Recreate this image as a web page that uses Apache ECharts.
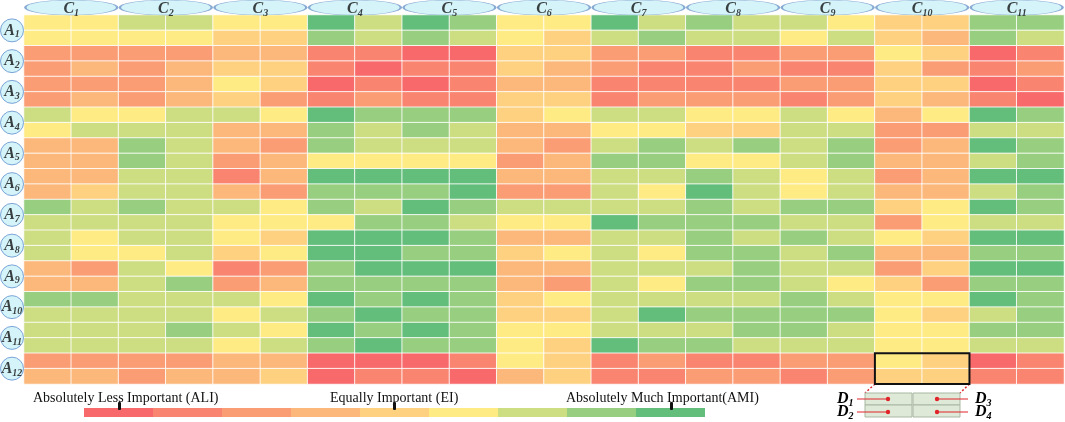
<!DOCTYPE html>
<html>
<head>
<meta charset="utf-8">
<script src="https://cdn.jsdelivr.net/npm/echarts@6/dist/echarts.min.js"></script>
<style>
  html, body { margin: 0; padding: 0; background: #fff; }
  #chart { width: 1065px; height: 422px; }
</style>
</head>
<body>
<div id="chart"></div>
<script>
// column groups C1..C11, each split in two sub-columns
var colGroups = ['C1', 'C2', 'C3', 'C4', 'C5', 'C6', 'C7', 'C8', 'C9', 'C10', 'C11'];
// row groups A1..A12, each split in two sub-rows
var rowGroups = ['A1', 'A2', 'A3', 'A4', 'A5', 'A6', 'A7', 'A8', 'A9', 'A10', 'A11', 'A12'];

// 1 = absolutely less important ... 5 = equally ... 9 = absolutely much important
var levels = [1, 2, 3, 4, 5, 6, 7, 8, 9];
var levelColors = ['#f8696b', '#f98570', '#fa9d75', '#fcb77a', '#fdd17f', '#ffeb84', '#cddd82', '#98ce7f', '#63be7b'];

// one line per sub-row, 22 cells (C1a,C1b,C2a,...)
var cells = [
  [6,6, 7,7, 6,6, 9,7, 9,8, 6,6, 9,7, 8,7, 7,6, 5,5, 8,8],
  [6,6, 6,6, 5,5, 8,7, 8,7, 6,5, 7,8, 7,7, 6,7, 5,4, 8,7],
  [3,3, 3,3, 4,4, 2,2, 1,1, 5,5, 3,3, 2,2, 3,3, 6,5, 1,2],
  [3,4, 3,4, 5,5, 2,1, 2,2, 5,4, 3,2, 2,3, 2,2, 5,3, 2,3],
  [3,3, 3,4, 6,5, 1,2, 1,2, 4,4, 2,2, 2,2, 3,3, 5,5, 1,2],
  [3,4, 3,4, 5,3, 2,3, 2,2, 5,5, 2,3, 3,3, 2,3, 5,4, 2,1],
  [7,6, 6,7, 7,6, 9,8, 8,8, 5,6, 7,7, 6,6, 7,6, 4,6, 9,8],
  [6,7, 7,7, 4,4, 8,7, 8,7, 4,4, 6,6, 5,5, 7,7, 3,3, 7,7],
  [4,4, 8,7, 4,3, 8,7, 7,7, 4,3, 7,8, 7,8, 7,8, 3,4, 9,8],
  [4,4, 8,7, 3,4, 6,6, 6,6, 3,4, 8,8, 6,6, 7,8, 4,4, 7,8],
  [4,4, 7,7, 2,4, 9,9, 9,9, 4,4, 7,7, 8,7, 6,7, 3,4, 9,9],
  [4,5, 7,7, 4,3, 8,8, 8,9, 3,3, 7,6, 9,7, 6,7, 4,4, 7,8],
  [8,7, 8,7, 7,6, 8,7, 9,8, 7,7, 7,7, 8,7, 8,8, 5,6, 9,8],
  [7,7, 7,7, 6,6, 6,8, 8,7, 6,6, 9,8, 8,8, 7,7, 3,6, 7,7],
  [7,6, 7,7, 6,5, 9,9, 9,8, 4,4, 7,7, 8,7, 8,7, 6,5, 9,9],
  [7,6, 6,7, 5,6, 9,9, 8,8, 5,6, 7,6, 8,8, 7,8, 4,4, 8,8],
  [4,3, 7,6, 2,3, 8,9, 9,9, 4,4, 7,7, 7,8, 7,7, 3,5, 9,9],
  [4,4, 7,8, 3,4, 8,8, 8,8, 4,3, 7,6, 8,8, 7,6, 5,3, 8,8],
  [8,8, 7,7, 7,6, 9,8, 9,8, 5,6, 7,7, 7,7, 8,7, 6,6, 9,8],
  [7,7, 7,7, 6,7, 8,9, 8,8, 5,5, 7,9, 8,8, 8,8, 6,5, 7,8],
  [7,7, 7,8, 7,6, 9,8, 9,8, 6,6, 7,7, 7,8, 8,7, 6,6, 8,8],
  [7,7, 7,7, 6,7, 8,9, 8,8, 6,5, 9,8, 8,7, 7,7, 6,6, 7,7],
  [3,3, 3,3, 4,4, 1,1, 1,2, 6,5, 2,3, 2,2, 3,3, 6,5, 1,2],
  [4,4, 3,4, 4,5, 1,2, 2,1, 4,5, 2,2, 3,3, 2,3, 5,5, 2,2]
];

var legendTexts = ['Absolutely Less Important (ALI)', 'Equally Important (EI)', 'Absolutely Much Important(AMI)'];
var insetLabels = ['D1', 'D2', 'D3', 'D4'];

var serif = '"Liberation Serif", "Times New Roman", serif';
var subRich = {
  m: { fontFamily: serif, fontWeight: 'bold', fontStyle: 'italic', fontSize: 16, color: '#111' },
  s: { fontFamily: serif, fontWeight: 'bold', fontStyle: 'italic', fontSize: 10, color: '#111', padding: [9, 0, 0, 0] }
};
function subLabel(name) {
  return '{m|' + name.charAt(0) + '}{s|' + name.slice(1) + '}';
}

var xCats = [], yCats = [], heatData = [];
colGroups.forEach(function (c) { xCats.push(c + 'a', c + 'b'); });
rowGroups.forEach(function (a) { yCats.push(a + 'a', a + 'b'); });
cells.forEach(function (row, r) {
  row.forEach(function (v, c) { heatData.push([c, r, v]); });
});

var myChart = echarts.init(document.getElementById('chart'));

var option = {
  animation: false,
  grid: [
    { left: 24, top: 15, width: 1040, height: 369 },   // cells
    { left: 24, top: 0, width: 1040, height: 15 },     // C headers
    { left: 0, top: 15, width: 24, height: 369 }       // A labels
  ],
  xAxis: [
    { type: 'category', gridIndex: 0, data: xCats, show: false },
    { type: 'category', gridIndex: 1, data: colGroups, show: false },
    { type: 'category', gridIndex: 2, data: ['x'], show: false }
  ],
  yAxis: [
    { type: 'category', gridIndex: 0, data: yCats, inverse: true, show: false },
    { type: 'category', gridIndex: 1, data: ['y'], show: false },
    { type: 'category', gridIndex: 2, data: rowGroups, inverse: true, show: false }
  ],
  visualMap: {
    type: 'piecewise',
    seriesIndex: 0,
    dimension: 2,
    orient: 'horizontal',
    left: 84,
    top: 408,
    padding: 0,
    itemWidth: 69,
    itemHeight: 9,
    itemGap: 0,
    itemSymbol: 'rect',
    showLabel: false,
    selectedMode: false,
    hoverLink: false,
    pieces: levels.map(function (v, i) { return { value: v, color: levelColors[i] }; })
  },
  series: [
    {
      type: 'heatmap',
      xAxisIndex: 0,
      yAxisIndex: 0,
      data: heatData,
      itemStyle: { borderColor: 'rgba(255,255,255,0.85)', borderWidth: 1 },
      emphasis: { disabled: true }
    },
    {
      type: 'scatter',
      xAxisIndex: 1,
      yAxisIndex: 1,
      symbol: 'circle',
      symbolSize: [92, 15],
      itemStyle: { color: '#c9f1f9', borderColor: '#6f96c8', borderWidth: 1 },
      data: colGroups.map(function (c, i) { return [i, 0]; }),
      label: {
        show: true,
        position: 'inside',
        offset: [0, 1],
        formatter: function (p) { return subLabel(colGroups[p.dataIndex]); },
        rich: subRich
      },
      silent: true
    },
    {
      type: 'scatter',
      xAxisIndex: 2,
      yAxisIndex: 2,
      symbol: 'circle',
      symbolSize: 23,
      itemStyle: { color: '#c9f1f9', borderColor: '#5f8fcd', borderWidth: 1 },
      data: rowGroups.map(function (a, i) { return [0, i]; }),
      label: {
        show: true,
        position: 'inside',
        formatter: function (p) { return subLabel(rowGroups[p.dataIndex]); },
        rich: subRich
      },
      silent: true
    }
  ]
};
myChart.setOption(option);

// highlighted cell block (C10 / A12) and its D1..D4 inset
var p0 = myChart.convertToPixel({ gridIndex: 0 }, [18, 22]);
var p1 = myChart.convertToPixel({ gridIndex: 0 }, [19, 23]);
var cw = 1040 / xCats.length, ch = 369 / yCats.length;
var bx0 = p0[0] - cw / 2, by0 = p0[1] - ch / 2, bx1 = p1[0] + cw / 2, by1 = p1[1] + ch / 2;

var legendFont = '14px ' + serif;
var graphics = [
  { type: 'text', x: 33, y: 398, style: { text: legendTexts[0], font: legendFont, fill: '#111', textVerticalAlign: 'middle', verticalAlign: 'middle' } },
  { type: 'text', x: 330, y: 398, style: { text: legendTexts[1], font: legendFont, fill: '#111', textVerticalAlign: 'middle', verticalAlign: 'middle' } },
  { type: 'text', x: 566, y: 398, style: { text: legendTexts[2], font: legendFont, fill: '#111', textVerticalAlign: 'middle', verticalAlign: 'middle' } },
  { type: 'rect', z: 10, shape: { x: 118, y: 402, width: 3, height: 8, r: 1 }, style: { fill: '#111' } },
  { type: 'rect', z: 10, shape: { x: 393, y: 402, width: 3, height: 8, r: 1 }, style: { fill: '#111' } },
  { type: 'rect', z: 10, shape: { x: 670, y: 402, width: 3, height: 8, r: 1 }, style: { fill: '#111' } },
  { type: 'rect', z: 10, shape: { x: bx0, y: by0, width: bx1 - bx0, height: by1 - by0 }, style: { fill: 'none', stroke: '#111', lineWidth: 2 } },
  { type: 'line', shape: { x1: bx0, y1: by1, x2: 865, y2: 393 }, style: { stroke: '#e0252a', lineWidth: 1.5, lineDash: [2, 2] } },
  { type: 'line', shape: { x1: bx1, y1: by1, x2: 960, y2: 393 }, style: { stroke: '#e0252a', lineWidth: 1.5, lineDash: [2, 2] } }
];
// inset boxes
[[865, 393], [865, 405], [913, 393], [913, 405]].forEach(function (b) {
  graphics.push({ type: 'rect', shape: { x: b[0], y: b[1], width: 47, height: 12 }, style: { fill: '#dfe9d8', stroke: '#a9b7a3', lineWidth: 1 } });
});
// inset pointers and labels
var ptr = [
  { lx: 837, ly: 399, x1: 857, x2: 888 },
  { lx: 837, ly: 412, x1: 857, x2: 888 },
  { lx: 975, ly: 399, x1: 968, x2: 937 },
  { lx: 975, ly: 412, x1: 968, x2: 937 }
];
ptr.forEach(function (p, i) {
  graphics.push({ type: 'line', shape: { x1: p.x1, y1: p.ly, x2: p.x2, y2: p.ly }, style: { stroke: '#e0252a', lineWidth: 1 } });
  graphics.push({ type: 'circle', shape: { cx: p.x2, cy: p.ly, r: 2.2 }, style: { fill: '#e0252a' } });
  graphics.push({ type: 'text', x: p.lx, y: p.ly, style: { text: subLabel(insetLabels[i]), rich: subRich, textVerticalAlign: 'middle', verticalAlign: 'middle' } });
});

myChart.setOption({ graphic: graphics });
</script>
</body>
</html>
